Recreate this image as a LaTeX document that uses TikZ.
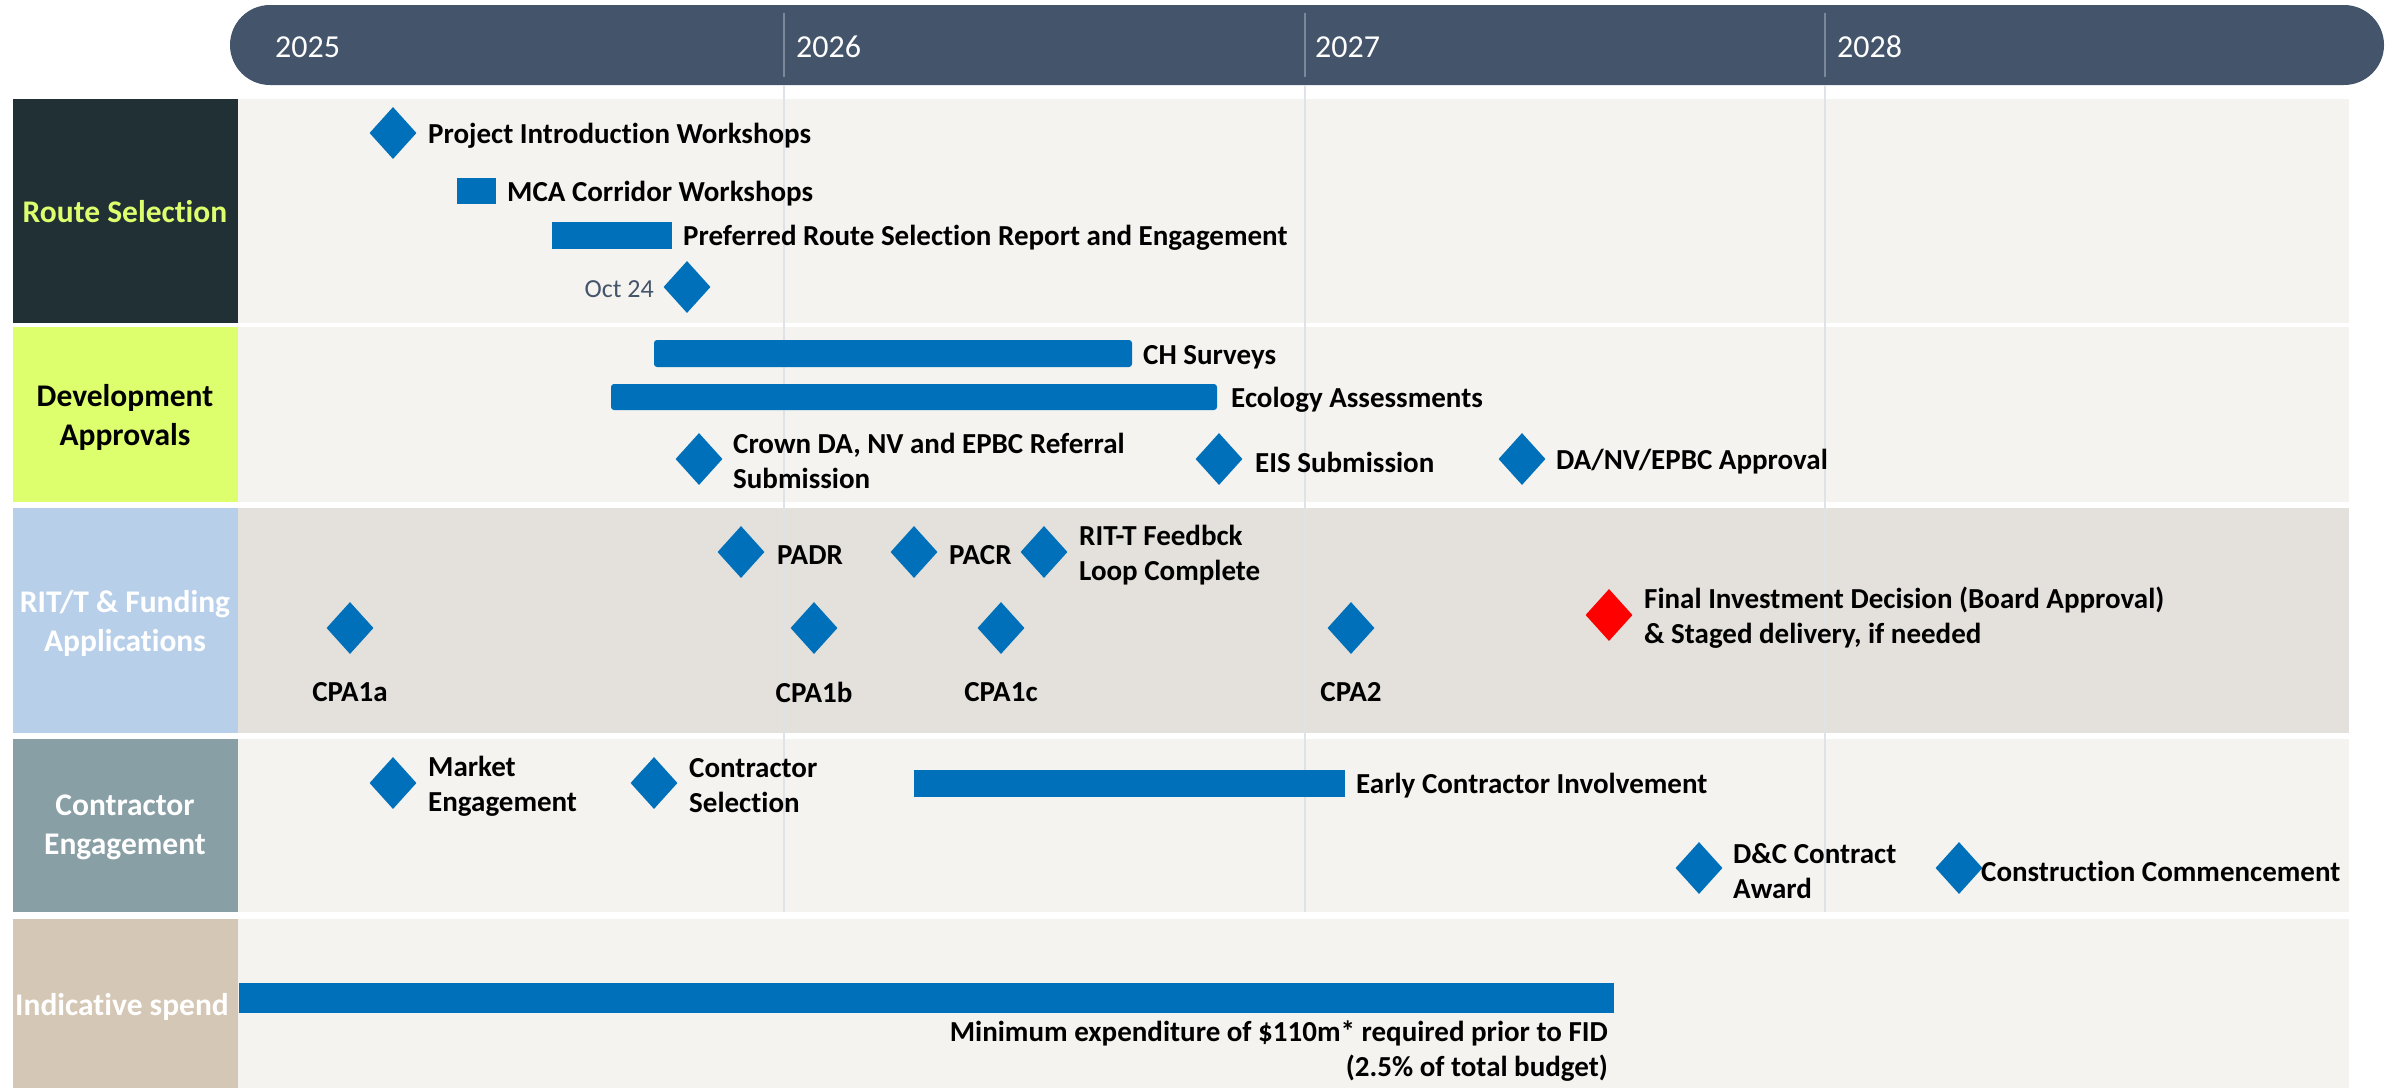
\documentclass[tikz,border=0pt]{standalone}
\usepackage{fontspec}
\setmainfont[Ligatures={NoCommon}]{Carlito}
\usetikzlibrary{shapes.geometric}
\definecolor{hdr}{HTML}{44546A}
\definecolor{rowbg}{HTML}{F4F3EF}
\definecolor{rowdk}{HTML}{E4E0DB}
\definecolor{msblue}{HTML}{0070BA}
\definecolor{lime}{HTML}{DDFF6E}
\definecolor{darkbox}{HTML}{213035}
\definecolor{ritbox}{HTML}{B8CFEA}
\definecolor{conbox}{HTML}{889FA6}
\definecolor{spendbox}{HTML}{D5C7B5}
\definecolor{gridc}{HTML}{DFE3E8}
\definecolor{gridh}{HTML}{7A889A}
\begin{document}
\begin{tikzpicture}[x=1pt,y=-1pt,
  txt/.style={font=\fontsize{29}{35}\selectfont\bfseries, anchor=west, inner sep=0pt, align=left, text=black},
  ctxt/.style={font=\fontsize{29}{35}\selectfont\bfseries, anchor=center, inner sep=0pt, text=black},
  cat/.style={font=\fontsize{31.5}{39}\selectfont\bfseries, anchor=center, inner sep=0pt, align=center},
  year/.style={font=\fontsize{32}{36}\selectfont, anchor=west, inner sep=0pt, text=white},
  ms/.style={diamond, fill=msblue, minimum width=47pt, minimum height=52pt, inner sep=0pt},
  bar/.style={fill=msblue},
  gline/.style={draw=gridc, line width=1.5pt}]
\useasboundingbox (0,0) rectangle (2399,1088);
% header
\fill[hdr, rounded corners=40pt] (230,5) rectangle (2384,85);
\foreach \x in {784,1305,1825} \draw[gridh, line width=1.2pt] (\x,13) -- (\x,77);
\node[year] (y25) at (275,47) {2025};
\node[year] (y26) at (796,47) {2026};
\node[year] (y27) at (1315,47) {2027};
\node[year] (y28) at (1837,47) {2028};
% row backgrounds
\fill[rowbg] (238,99) rectangle (2349,323);
\fill[rowbg] (238,327) rectangle (2349,502);
\fill[rowdk] (238,508) rectangle (2349,733);
\fill[rowbg] (238,739) rectangle (2349,912);
\fill[rowbg] (238,919) rectangle (2349,1088);
% grid lines
\foreach \x in {784,1305,1825} \draw[gline] (\x,85) -- (\x,912);
% category boxes
\fill[darkbox] (13,99) rectangle (238,323);
\fill[lime] (13,327) rectangle (238,502);
\fill[ritbox] (13,508) rectangle (238,733);
\fill[conbox] (13,739) rectangle (238,912);
\fill[spendbox] (13,919) rectangle (238,1088);
\node[cat, text=lime] (c1) at (125,212) {Route Selection};
\node[cat, text=black] (c2) at (125,417) {Development\\Approvals};
\node[cat, text=white] (c3) at (125,623) {RIT/T \& Funding\\Applications};
\node[cat, text=white] (c4) at (125,827) {Contractor\\Engagement};
\node[cat, text=white] (c5) at (122,1007) {Indicative spend};
% Route selection
\node[ms] (m1) at (393,133) {};
\node[txt] (t1) at (428,136) {Project Introduction Workshops};
\fill[bar] (457,178) rectangle (496,204);
\node[txt] (t2) at (507,194) {MCA Corridor Workshops};
\fill[bar] (552,222) rectangle (672,249);
\node[txt] (t3) at (683,238) {Preferred Route Selection Report and Engagement};
\node[ms] (m2) at (687,287) {};
\node[font=\fontsize{26}{30}\selectfont, text=hdr, anchor=east, inner sep=0pt] (t4) at (654,289) {Oct 24};
% Development approvals
\fill[bar, rounded corners=3pt] (654,340) rectangle (1132,367);
\node[txt] (t5) at (1143,357) {CH Surveys};
\fill[bar, rounded corners=3pt] (611,384) rectangle (1217,410);
\node[txt] (t6) at (1231,400) {Ecology Assessments};
\node[ms] (m3) at (699,459) {};
\node[txt] (t7) at (733,461) {Crown DA, NV and EPBC Referral\\Submission};
\node[ms] (m4) at (1219,459) {};
\node[txt] (t8) at (1255,462) {EIS Submission};
\node[ms] (m5) at (1522,459) {};
\node[txt] (t9) at (1556,462) {DA/NV/EPBC Approval};
% RIT/T
\node[ms] (m6) at (741,552) {};
\node[txt] (t10) at (777,555) {PADR};
\node[ms] (m7) at (914,552) {};
\node[txt] (t11) at (949,555) {PACR};
\node[ms] (m8) at (1044,552) {};
\node[txt] (t12) at (1079,555) {RIT-T Feedbck\\Loop Complete};
\node[ms] (m9) at (350,628) {};
\node[ctxt] (t13) at (350,692) {CPA1a};
\node[ms] (m10) at (814,628) {};
\node[ctxt] (t14) at (814,692) {CPA1b};
\node[ms] (m11) at (1001,628) {};
\node[ctxt] (t15) at (1001,692) {CPA1c};
\node[ms] (m12) at (1351,628) {};
\node[ctxt] (t16) at (1351,692) {CPA2};
\node[ms, fill=red] (m13) at (1609,615) {};
\node[txt] (t17) at (1644,618) {Final Investment Decision (Board Approval)\\\& Staged delivery, if needed};
% Contractor engagement
\node[ms] (m14) at (393,783) {};
\node[txt] (t18) at (428,786) {Market\\Engagement};
\node[ms] (m15) at (654,783) {};
\node[txt] (t19) at (689,786) {Contractor\\Selection};
\fill[bar] (914,770) rectangle (1345,797);
\node[txt] (t20) at (1356,786) {Early Contractor Involvement};
\node[ms] (m16) at (1699,868) {};
\node[txt] (t21) at (1733,871) {D\&C Contract\\Award};
\node[ms] (m17) at (1959,868) {};
\node[txt] (t22) at (1981,871) {Construction Commencement};
% Indicative spend
\fill[bar] (239,983) rectangle (1614,1013);
\node[txt, anchor=east, align=right] (t23) at (1608,1051) {Minimum expenditure of \$110m* required prior to FID\\(2.5\% of total budget)};
\end{tikzpicture}
\end{document}
